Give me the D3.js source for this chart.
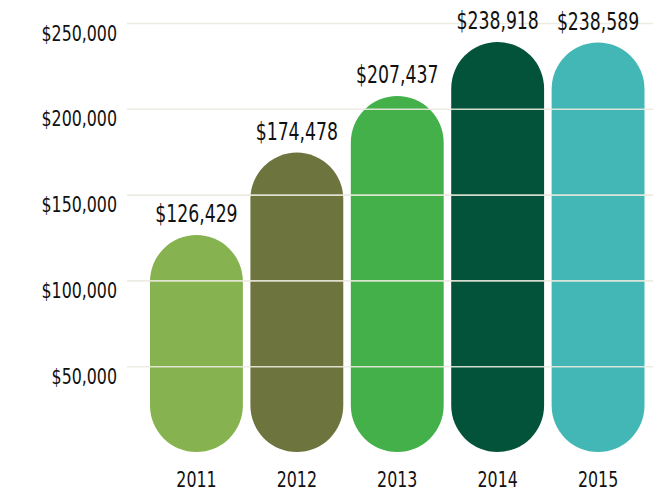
<!DOCTYPE html>
<html>
<head>
<meta charset="utf-8">
<script src="https://cdn.jsdelivr.net/npm/d3@7"></script>
<style>
  html, body { margin: 0; padding: 0; background: #fff; }
  svg { display: block; }
  text { font-family: "DejaVu Sans Condensed", "Liberation Sans Narrow", sans-serif; fill: #111; }
</style>
</head>
<body>
<svg id="chart" width="653" height="493"></svg>
<script>
const years = ["2011", "2012", "2013", "2014", "2015"];
const values = [126429, 174478, 207437, 238918, 238589];
const colors = ["#86b34f", "#6e743e", "#43b04a", "#03523a", "#43b7b5"];
const tickValues = [50000, 100000, 150000, 200000, 250000];

const svg = d3.select("#chart");
const W = 653, H = 493;
const SX = 0.8;

const x = d3.scaleBand().domain(years).range([150, 644.5]).paddingInner(0.075).paddingOuter(0);
const y = d3.scaleLinear().domain([0, 250000]).range([452, 23]);

const money = v => "$" + d3.format(",")(v);

// bars (pills)
svg.append("g").selectAll("rect").data(years).join("rect")
  .attr("x", d => x(d))
  .attr("y", (d, i) => y(values[i]))
  .attr("width", x.bandwidth())
  .attr("height", (d, i) => y(0) - y(values[i]))
  .attr("rx", x.bandwidth() / 2)
  .attr("ry", x.bandwidth() / 2)
  .attr("fill", (d, i) => colors[i]);

// gridlines on top + y labels
const yAxis = d3.axisLeft(y).tickValues(tickValues).tickFormat(money).tickSize(0);
const gy = svg.append("g").attr("transform", "translate(127,0)").call(yAxis);
gy.select(".domain").remove();
gy.selectAll(".tick line")
  .attr("x1", 0).attr("x2", W - 127)
  .attr("stroke", "#ebeadf").attr("stroke-width", 1.6).attr("opacity", 0.9);
gy.selectAll(".tick text")
  .attr("x", -12.5).attr("dy", "0").attr("y", 17)
  .attr("transform", `scale(${SX},1)`)
  .attr("font-size", 22)
  .attr("font-family", null)
  .attr("fill", "#111")
  .attr("text-anchor", "end");

// value labels
svg.append("g").selectAll("text").data(years).join("text")
  .attr("transform", (d, i) => `translate(${x(d) + x.bandwidth() / 2},${y(values[i]) - 13}) scale(${SX},1)`)
  .attr("text-anchor", "middle")
  .attr("font-size", 24)
  .text((d, i) => money(values[i]));

// x axis labels
const xAxis = d3.axisBottom(x).tickSize(0);
const gx = svg.append("g").attr("transform", "translate(0,452)").call(xAxis);
gx.select(".domain").remove();
gx.selectAll(".tick text")
  .attr("y", 35).attr("dy", "0")
  .attr("transform", `scale(${SX},1)`)
  .attr("font-size", 22)
  .attr("font-family", null)
  .attr("fill", "#111");
</script>
</body>
</html>
